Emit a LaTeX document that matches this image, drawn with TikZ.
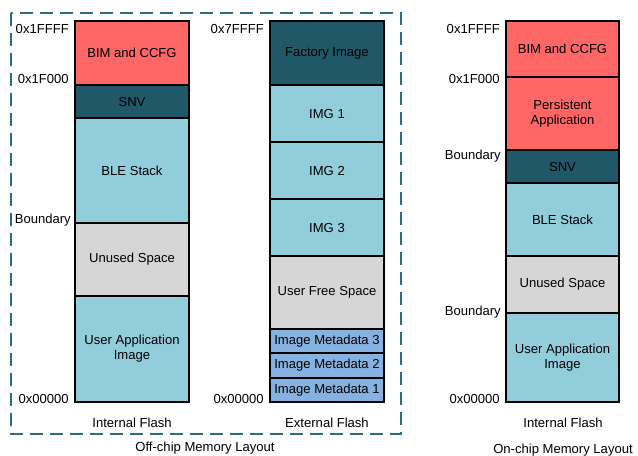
\documentclass[tikz,border=0pt]{standalone}
\usepackage{fontspec}
\setmainfont{Liberation Sans}
\definecolor{memred}{HTML}{FF6666}
\definecolor{memteal}{HTML}{215868}
\definecolor{memlight}{HTML}{92CDDC}
\definecolor{memgray}{HTML}{D6D6D6}
\definecolor{memmeta}{HTML}{85B2E0}
\definecolor{frameblue}{HTML}{2F6B85}
\newcommand\memfont{\fontsize{9.8}{11.4}\selectfont}
\tikzset{
  seg/.style={draw=black, line width=0.9pt, inner sep=0pt, align=center, font=\memfont},
  addr/.style={anchor=east, inner sep=0pt, font=\memfont},
  caption/.style={inner sep=0pt, font=\memfont}
}
% #1 name, #2 left, #3 top, #4 right, #5 bottom, #6 fill, #7 text
\newcommand\memseg[7]{%
  \node[seg, fill=#6, minimum width={(#4-#2)*0.75pt}, minimum height={(#5-#3)*0.75pt}]
    (#1) at ({(#2+#4)/2},{(#3+#5)/2}) {#7};}
\begin{document}
\begin{tikzpicture}[x=0.75pt, y=-0.75pt]
\useasboundingbox (0,0) rectangle (638,455);

% off-chip frame
\draw[frameblue, line width=1.5pt, dash pattern=on 10pt off 5pt] (11,13) rectangle (401,434);
\node[caption] (offcap) at (205,448) {Off-chip Memory Layout};

% internal flash (off-chip variant)
\memseg{a1}{75}{21}{189}{85}{memred}{BIM and CCFG}
\memseg{a2}{75}{85}{189}{118}{memteal}{SNV}
\memseg{a3}{75}{118}{189}{223}{memlight}{BLE Stack}
\memseg{a4}{75}{223}{189}{296}{memgray}{Unused Space}
\memseg{a5}{75}{296}{189}{402}{memlight}{User Application\\Image}
\node[addr] (la1) at (69,29) {0x1FFFF};
\node[addr] (la2) at (69,79) {0x1F000};
\node[addr] (la3) at (71,220) {Boundary};
\node[addr] (la4) at (69,399) {0x00000};
\node[caption] (capa) at (132,423) {Internal Flash};

% external flash
\memseg{b1}{270}{21}{384}{85}{memteal}{Factory Image}
\memseg{b2}{270}{85}{384}{142}{memlight}{IMG 1}
\memseg{b3}{270}{142}{384}{199}{memlight}{IMG 2}
\memseg{b4}{270}{199}{384}{256}{memlight}{IMG 3}
\memseg{b5}{270}{256}{384}{329}{memgray}{User Free Space}
\memseg{b6}{270}{329}{384}{353}{memmeta}{Image Metadata 3}
\memseg{b7}{270}{353}{384}{378}{memmeta}{Image Metadata 2}
\memseg{b8}{270}{378}{384}{402}{memmeta}{Image Metadata 1}
\node[addr] (lb1) at (264,29) {0x7FFFF};
\node[addr] (lb2) at (264,399) {0x00000};
\node[caption] (capb) at (327,423) {External Flash};

% internal flash (on-chip variant)
\memseg{c1}{506}{21}{619}{77}{memred}{BIM and CCFG}
\memseg{c2}{506}{77}{619}{150}{memred}{Persistent\\Application}
\memseg{c3}{506}{150}{619}{183}{memteal}{SNV}
\memseg{c4}{506}{183}{619}{256}{memlight}{BLE Stack}
\memseg{c5}{506}{256}{619}{313}{memgray}{Unused Space}
\memseg{c6}{506}{313}{619}{402}{memlight}{User Application\\Image}
\node[addr] (lc1) at (500,29) {0x1FFFF};
\node[addr] (lc2) at (500,79) {0x1F000};
\node[addr] (lc3) at (501,156) {Boundary};
\node[addr] (lc4) at (501,312) {Boundary};
\node[addr] (lc5) at (500,399) {0x00000};
\node[caption] (capc) at (563,423) {Internal Flash};
\node[caption] (oncap) at (563,450) {On-chip Memory Layout};
\end{tikzpicture}
\end{document}
